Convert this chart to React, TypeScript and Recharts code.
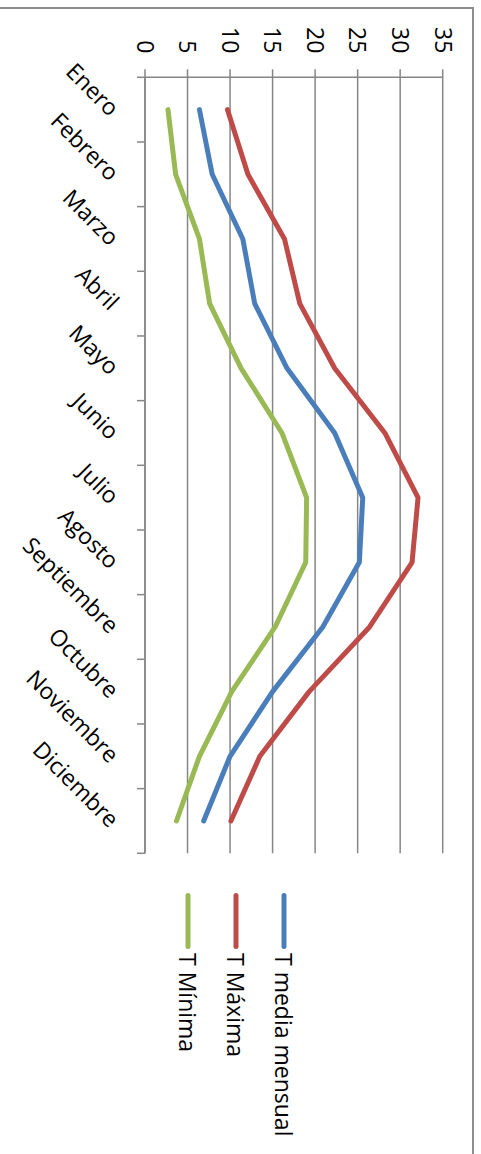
import React from 'react'
import { LineChart, Line, XAxis, YAxis, CartesianGrid, Legend } from 'recharts'

// monthly temperatures (°C)
const meses = ['Enero', 'Febrero', 'Marzo', 'Abril', 'Mayo', 'Junio', 'Julio', 'Agosto', 'Septiembre', 'Octubre', 'Noviembre', 'Diciembre']
const tMedia = [6.4, 7.9, 11.5, 12.9, 16.7, 22.3, 25.6, 25.2, 20.9, 15.0, 10.0, 6.9]
const tMaxima = [9.7, 12.1, 16.4, 18.2, 22.3, 28.2, 32.1, 31.4, 26.4, 19.3, 13.5, 10.1]
const tMinima = [2.7, 3.6, 6.4, 7.6, 11.3, 16.1, 19.0, 18.9, 15.3, 10.2, 6.4, 3.7]
const valueTicks = [0, 5, 10, 15, 20, 25, 30, 35]
const seriesNames = ['T media mensual', 'T Máxima', 'T Mínima']

const FONT = '"Open Sans", "Noto Sans", sans-serif'
const GRID = '#868686'
const FS = 23

// months sit between tick marks: integer positions get a tick mark, half positions a label
const catTicks = Array.from({ length: 25 }, (_, i) => i / 2)

const data = meses.map((m, i) => ({
  pos: i + 0.5,
  mes: m,
  media: tMedia[i],
  maxima: tMaxima[i],
  minima: tMinima[i],
}))

function MonthTick(props: any) {
  const { x, y, payload } = props
  const v = payload.value as number
  const axisY = y - 8
  if (Number.isInteger(v)) {
    return <line x1={x} x2={x} y1={axisY} y2={axisY + 8} stroke={GRID} strokeWidth={1.5} />
  }
  const tx = x + 8
  const ty = axisY + 36
  return (
    <text x={tx} y={ty} transform={`rotate(-45 ${tx} ${ty})`} textAnchor="end"
      fontFamily={FONT} fontSize={FS} fill="#000">
      {meses[v - 0.5]}
    </text>
  )
}

function LegendBox(props: any) {
  const items = [...(props.payload || [])].sort(
    (a: any, b: any) => seriesNames.indexOf(a.value) - seriesNames.indexOf(b.value))
  return (
    <div>
      {items.map((e: any) => (
        <div key={e.value} style={{ display: 'flex', alignItems: 'center', height: 48 }}>
          <svg width={60} height={10}>
            <line x1={4.5} x2={55.5} y1={5} y2={5} stroke={e.color} strokeWidth={5} strokeLinecap="round" />
          </svg>
          <span style={{ fontFamily: FONT, fontSize: FS, marginLeft: 2, color: '#000', whiteSpace: 'nowrap' }}>{e.value}</span>
        </div>
      ))}
    </div>
  )
}

export default function App() {
  return (
    <div style={{ position: 'absolute', left: 0, top: 0, width: 481, height: 1154, overflow: 'hidden', background: '#fff' }}>
      <div style={{ position: 'absolute', left: 0, top: 0, width: 1154, height: 481, transform: 'translate(481px, 0) rotate(90deg)', transformOrigin: '0 0' }}>
        <div style={{ position: 'absolute', left: 7, top: 7, width: 1200, height: 520, borderLeft: '2px solid #8c8c8c', borderTop: '2px solid #8c8c8c' }} />
        <LineChart width={1154} height={481} data={data}
          margin={{ top: 38.3, right: 300.7, bottom: 45, left: 17.3 }}>
          <CartesianGrid vertical={false} stroke={GRID} strokeWidth={1.5} />
          <XAxis dataKey="pos" type="number" domain={[0, 12]} ticks={catTicks} interval={0}
            height={100} tickSize={8} tickMargin={0} tickLine={false}
            axisLine={{ stroke: GRID, strokeWidth: 1.5 }} tick={<MonthTick />} />
          <YAxis type="number" domain={[0, 35]} ticks={valueTicks} width={60} tickSize={8} tickMargin={16}
            axisLine={{ stroke: GRID, strokeWidth: 1.5 }} tickLine={{ stroke: GRID, strokeWidth: 1.5 }}
            tick={{ fontFamily: FONT, fontSize: FS, fill: '#000' }} />
          <Legend layout="vertical" align="center" verticalAlign="middle" content={<LegendBox />}
            wrapperStyle={{ left: 891, top: 173, width: 260 }} />
          <Line type="linear" dataKey="media" name={seriesNames[0]} stroke="#4A7EBB" strokeWidth={5}
            dot={false} strokeLinejoin="round" strokeLinecap="round" isAnimationActive={false} />
          <Line type="linear" dataKey="maxima" name={seriesNames[1]} stroke="#BE4B48" strokeWidth={5}
            dot={false} strokeLinejoin="round" strokeLinecap="round" isAnimationActive={false} />
          <Line type="linear" dataKey="minima" name={seriesNames[2]} stroke="#98B954" strokeWidth={5}
            dot={false} strokeLinejoin="round" strokeLinecap="round" isAnimationActive={false} />
        </LineChart>
      </div>
    </div>
  )
}
